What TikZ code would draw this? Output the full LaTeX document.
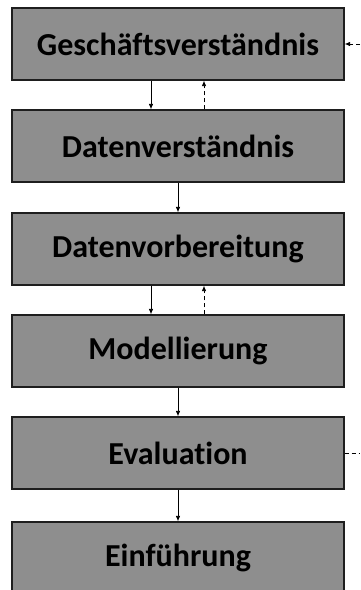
\documentclass[tikz,border=0pt]{standalone}
\usepackage{fontspec}
\setmainfont{Carlito}[Ligatures=NoCommon]
\usetikzlibrary{arrows.meta}
\definecolor{boxgray}{RGB}{142,142,142}
\definecolor{edgegray}{RGB}{30,30,30}
\begin{document}
\begin{tikzpicture}[x=1pt,y=-1pt,
  phase/.style={draw=edgegray,line width=1.2pt,fill=boxgray,minimum width=332pt,minimum height=72pt,
    inner sep=0pt,font=\fontsize{32}{36}\selectfont\bfseries,text=black},
  flow/.style={line width=0.8pt,-{Latex[length=5.5pt,width=4.5pt]}},
  back/.style={flow,dash pattern=on 4pt off 3pt}]
\useasboundingbox (0,0) rectangle (360,590);
\begin{scope}
\clip (0,0) rectangle (360,590);
\node[phase] (g) at (178,44) {Geschäftsverständnis};
\node[phase] (d) at (178,146) {Datenverständnis};
\node[phase] (v) at (178,249) {Datenvorbereitung};
\node[phase] (m) at (178,351) {Modellierung};
\node[phase] (e) at (178,453) {Evaluation};
\node[phase] (f) at (178,558) {Einführung};
\end{scope}
% forward flow
\draw[flow] ([xshift=-27pt]g.south) -- ([xshift=-27pt]d.north);
\draw[back] ([xshift=26pt]d.north) -- ([xshift=26pt]g.south);
\draw[flow] (d.south) -- (v.north);
\draw[flow] ([xshift=-27pt]v.south) -- ([xshift=-27pt]m.north);
\draw[back] ([xshift=26pt]m.north) -- ([xshift=26pt]v.south);
\draw[flow] (m.south) -- (e.north);
\draw[flow] (e.south) -- (f.north);
% feedback from evaluation to business understanding
\coordinate (eout) at (360,453);
\coordinate (gin) at (360,44);
\draw[line width=0.8pt,dash pattern=on 4pt off 3pt] (e.east) -- (eout);
\draw[back] (gin) -- (g.east);
\end{tikzpicture}
\end{document}
